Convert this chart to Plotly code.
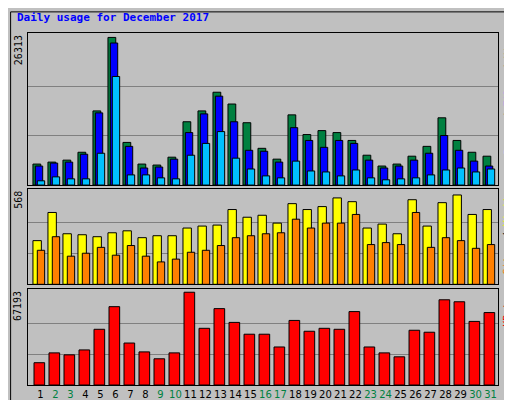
import plotly.graph_objects as go
from plotly.subplots import make_subplots

days = list(range(1, 32))
hits = [3742,4093,4444,5847,13214,26313,7601,3742,3567,4970,11285,13214,16547,14442,11109,6549,4619,12513,9004,9706,9355,7952,5321,3391,3742,5145,6899,11986,7952,5847,5145]
files = [3391,3917,4093,5496,12863,25318,6899,3040,3216,4619,9355,12688,15845,11285,6198,6022,4093,10232,7952,6724,7952,7426,4444,3040,3391,4444,5672,8829,6198,4268,3391]
pages = [760,1462,1111,1111,5672,19354,1813,1813,1286,1111,5321,7426,9531,4795,2865,1637,1286,4268,2514,2339,1637,2690,1286,936,1111,1286,1813,2690,3040,2339,2865]
visits = [267,439,309,303,291,315,327,285,297,297,344,356,362,457,410,422,374,493,457,475,528,505,344,368,309,517,356,499,546,427,457]
sites = [208,291,172,190,226,178,237,172,137,154,196,208,237,285,297,309,315,398,344,374,374,427,243,255,243,439,226,285,267,220,243]
kbytes = [16145,23267,21843,25403,40362,56743,30390,23979,18994,23267,67193,41074,55317,45347,36800,36800,27541,46771,38937,41074,40362,53183,27541,23267,20418,39649,38225,61729,60305,46060,52471]
weekend = {2,3,9,10,16,17,23,24,30,31}
max_hits, max_visits, max_kb = 26313, 568, 67193

fig = make_subplots(rows=3, cols=1)
ln = dict(color="black", width=1)
def bar(y, color, off, w, row):
    fig.add_trace(go.Bar(x=days, y=y, marker=dict(color=color, line=ln), offset=off, width=w), row=row, col=1)
bar(hits, "#008040", -0.5, 0.52, 1)
bar(files, "#0000FF", -0.34, 0.49, 1)
bar(pages, "#00C0FF", -0.21, 0.49, 1)
bar(visits, "#FFFF00", -0.5, 0.56, 2)
bar(sites, "#FF8000", -0.21, 0.49, 2)
bar(kbytes, "#FF0000", -0.43, 0.71, 3)

fig.update_layout(barmode="overlay", showlegend=False, width=512, height=400,
    margin=dict(l=20, r=22, t=25, b=23, autoexpand=False), paper_bgcolor="#C0C0C0", plot_bgcolor="#C0C0C0",
    font=dict(family="DejaVu Sans Mono", size=11))
doms = [[0.568, 1.0], [0.286, 0.558], [0.0, 0.273]]
tops = [max_hits * 1.03, max_visits * 1.03, max_kb * 1.036]
maxes = [max_hits, max_visits, max_kb]
for i in range(3):
    ax = "xaxis" if i == 0 else f"xaxis{i+1}"
    ay = "yaxis" if i == 0 else f"yaxis{i+1}"
    fig.layout[ay].update(domain=doms[i], range=[0, tops[i]], showticklabels=False, automargin=False,
        tickvals=[maxes[i] / 3, maxes[i] * 2 / 3], gridcolor="#808080", zeroline=False,
        showline=True, mirror=True, linecolor="black")
    fig.layout[ax].update(range=[0.17, 31.5], showgrid=False, zeroline=False, automargin=False,
        showline=True, mirror=True, linecolor="black", showticklabels=(i == 2), ticks="")
fig.layout.xaxis3.update(tickvals=days, tickangle=0,
    ticktext=[f"<span style='color:#008040'>{d}</span>" if d in weekend else str(d) for d in days],
    tickfont=dict(family="DejaVu Sans", size=10, color="black"))

ys = [1.0, 0.558, 0.273]
for i, lab in enumerate(["26313", "568", "67193"]):
    fig.add_annotation(text=lab, x=-0.005, y=ys[i], xref="paper", yref="paper", textangle=-90,
        showarrow=False, xanchor="right", yanchor="top", font=dict(size=10, color="black"))
legends = ["<span style='color:#00C0FF'>Pages</span> / <span style='color:#0000FF'>Files</span> / <span style='color:#008040'>Hits</span>",
           "<span style='color:#FF8000'>Sites</span> / <span style='color:#FFFF00'>Visits</span>",
           "<span style='color:#FF0000'>KBytes</span>"]
for i, lab in enumerate(legends):
    fig.add_annotation(text=lab, x=1.005, y=ys[i], xref="paper", yref="paper", textangle=-90,
        showarrow=False, xanchor="left", yanchor="top", font=dict(size=10, color="black"))
fig.add_annotation(text="<b>Daily usage for December 2017</b>", x=-0.028, y=1.045, xref="paper", yref="paper",
    showarrow=False, xanchor="left", yanchor="middle", font=dict(size=11, color="#0000FF"))
fig.add_shape(type="rect", xref="paper", yref="paper", x0=-0.037, x1=1.042, y0=-0.063, y1=1.06,
    line=dict(color="black", width=1))
fig.write_html("out.html")
